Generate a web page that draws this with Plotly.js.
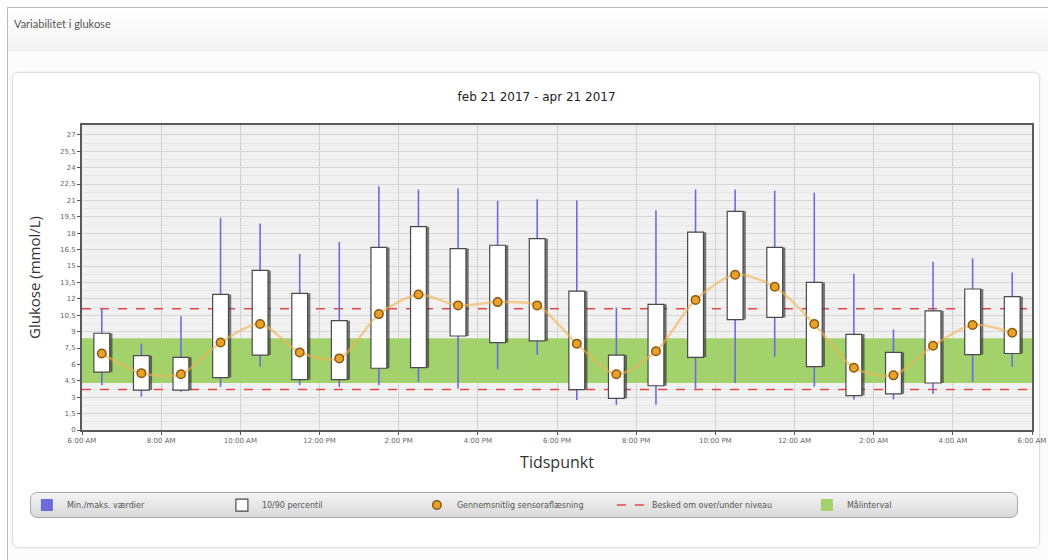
<!DOCTYPE html>
<html>
<head>
<meta charset="utf-8">
<script src="https://cdn.plot.ly/plotly-3.0.1.min.js"></script>
<style>
  html, body { margin: 0; padding: 0; background: #ffffff; }
  #page { position: relative; width: 1048px; height: 560px; overflow: hidden; }
  #outer { position: absolute; left: 7px; top: 7px; width: 1041px; height: 553px;
           border-left: 1px solid #b8b8b8; border-top: 1px solid #b8b8b8; background: #fcfcfc; }
  #header { position: absolute; left: 8px; top: 8px; width: 1040px; height: 42px;
            background: linear-gradient(#ffffff, #f4f4f4); border-bottom: 1px solid #ececec; }
  #panel { position: absolute; left: 12px; top: 72px; width: 1026px; height: 474px;
           border: 1px solid #dedede; border-radius: 6px; background: #ffffff;
           box-shadow: 0 0 3px rgba(0,0,0,0.08); }
  #legendbg { position: absolute; left: 30px; top: 492px; width: 986px; height: 24px;
              border: 1px solid #a8a8a8; border-radius: 7px;
              background: linear-gradient(#f4f4f4, #d9d9d9); }
  #chart { position: absolute; left: 0; top: 0; width: 1048px; height: 560px; }
</style>
</head>
<body>
<div id="page">
  <div id="outer"></div>
  <div id="header"></div>
  <div id="panel"></div>
  <div id="legendbg"></div>
  <div id="chart"></div>
</div>
<script>
// ---- data ----
const hours   = [6.5, 7.5, 8.5, 9.5, 10.5, 11.5, 12.5, 13.5, 14.5, 15.5, 16.5, 17.5,
                 18.5, 19.5, 20.5, 21.5, 22.5, 23.5, 24.5, 25.5, 26.5, 27.5, 28.5, 29.5];
const minVals = [4.1, 3.05, 3.5, 3.95, 5.8, 4.1, 3.95, 4.1, 4.4, 3.8, 5.55, 6.85,
                 2.75, 2.3, 2.3, 3.8, 4.3, 6.7, 3.95, 2.8, 2.8, 3.3, 4.4, 5.8];
const maxVals = [11.1, 7.9, 10.4, 19.4, 18.9, 16.1, 17.2, 22.3, 22.0, 22.1, 20.95, 21.1,
                 21.0, 11.2, 20.1, 22.0, 22.0, 21.9, 21.7, 14.3, 9.2, 15.4, 15.7, 14.4];
const p10     = [5.3, 3.65, 3.65, 4.8, 6.85, 4.6, 4.6, 5.65, 5.7, 8.6, 8.0, 8.15,
                 3.7, 2.9, 4.05, 6.65, 10.1, 10.3, 5.8, 3.15, 3.3, 4.3, 6.9, 7.0];
const p90     = [8.85, 6.8, 6.65, 12.4, 14.6, 12.5, 10.0, 16.7, 18.6, 16.6, 16.9, 17.5,
                 12.7, 6.85, 11.5, 18.1, 20.0, 16.7, 13.5, 8.75, 7.1, 10.9, 12.9, 12.2];
const meanVals= [7.0, 5.2, 5.1, 8.0, 9.7, 7.1, 6.55, 10.6, 12.4, 11.4, 11.7, 11.4,
                 7.9, 5.1, 7.2, 11.9, 14.2, 13.1, 9.7, 5.7, 5.0, 7.7, 9.6, 8.9];
const targetLow = 4.3, targetHigh = 8.4;
const alarmLow = 3.7, alarmHigh = 11.1;
const xStart = 6, xEnd = 30;
const xTickVals = [6, 8, 10, 12, 14, 16, 18, 20, 22, 24, 26, 28, 30];
const xTickText = ["6:00 AM", "8:00 AM", "10:00 AM", "12:00 PM", "2:00 PM", "4:00 PM", "6:00 PM",
                   "8:00 PM", "10:00 PM", "12:00 AM", "2:00 AM", "4:00 AM", "6:00 AM"];
const yTickVals = [0, 1.5, 3, 4.5, 6, 7.5, 9, 10.5, 12, 13.5, 15, 16.5, 18, 19.5, 21, 22.5, 24, 25.5, 27];
const yTickText = ["0", "1,5", "3", "4,5", "6", "7,5", "9", "10,5", "12", "13,5", "15", "16,5",
                   "18", "19,5", "21", "22,5", "24", "25,5", "27"];
const legendNames = ["Min./maks. værdier", "10/90 percentil", "Gennemsnitlig sensoraflæsning",
                     "Besked om over/under niveau", "Målinterval"];

// ---- build traces ----
const whiskHeights = maxVals.map((v, i) => v - minVals[i]);
const heights = p90.map((v, i) => v - p10[i]);

const traces = [
  { type: 'bar', name: legendNames[0], legendrank: 1, x: hours, y: whiskHeights, base: minVals,
    width: 0.04, offset: -0.02, marker: { color: '#6b6bdc', line: { width: 0 } } },
  { type: 'bar', x: hours, y: heights, base: p10, width: 0.4, offset: -0.13,
    marker: { color: 'rgba(50,50,50,0.65)', line: { width: 0 } }, showlegend: false, hoverinfo: 'skip' },
  { type: 'bar', name: legendNames[1], legendrank: 2, x: hours, y: heights, base: p10, width: 0.4, offset: -0.2,
    marker: { color: '#ffffff', line: { color: '#4a4a4a', width: 1.2 } } },
  { type: 'scatter', mode: 'lines', x: hours, y: meanVals, showlegend: false,
    line: { color: 'rgba(242,178,80,0.6)', width: 2.5, shape: 'spline', smoothing: 0.8 }, hoverinfo: 'skip' },
  { type: 'scatter', mode: 'markers', name: legendNames[2], legendrank: 3, x: hours, y: meanVals,
    marker: { color: '#e9a12a', size: 8.5, line: { color: '#8a5a12', width: 1.5 } } }
];

const layout = {
  width: 1048, height: 560,
  paper_bgcolor: 'rgba(0,0,0,0)', plot_bgcolor: '#f1f1f1',
  margin: { l: 82, r: 16, t: 125, b: 130 },
  barmode: 'overlay',
  font: { family: 'DejaVu Sans, sans-serif', color: '#444' },
  title: { text: 'feb 21 2017 - apr 21 2017', x: 0.512, xanchor: 'center', y: 0.827, yanchor: 'middle',
           font: { family: 'DejaVu Sans, sans-serif', size: 12, color: '#222' } },
  xaxis: {
    range: [xStart, xEnd], tickmode: 'array', tickvals: xTickVals, ticktext: xTickText,
    tickfont: { size: 7, color: '#666' }, ticks: 'outside', ticklen: 3, tickcolor: '#555',
    showgrid: true, gridcolor: '#d2d2d2', gridwidth: 1, zeroline: false,
    showline: true, mirror: true, linecolor: '#5a5a5a', linewidth: 2,
    title: { text: 'Tidspunkt', standoff: 12, font: { family: 'Open Sans, sans-serif', size: 16, color: '#333' } }
  },
  yaxis: {
    range: [0, 27.9], tickmode: 'array', tickvals: yTickVals, ticktext: yTickText,
    tickfont: { size: 7, color: '#666' }, ticks: 'outside', ticklen: 3, tickcolor: '#555',
    showgrid: true, gridcolor: '#d6d6d6', gridwidth: 1, zeroline: false,
    minor: { tickmode: 'linear', tick0: 0, dtick: 0.75, showgrid: true, gridcolor: '#e6e6e6', ticks: '' },
    showline: true, mirror: true, linecolor: '#5a5a5a', linewidth: 2,
    title: { text: 'Glukose (mmol/L)', standoff: 16, font: { family: 'Open Sans, sans-serif', size: 15, color: '#333' } }
  },
  shapes: [
    { type: 'rect', layer: 'between', xref: 'x', yref: 'y', x0: xStart, x1: xEnd, y0: targetLow, y1: targetHigh,
      fillcolor: '#a3d26c', line: { width: 0 }, showlegend: true, name: legendNames[4], legendrank: 5 },
    { type: 'line', layer: 'between', xref: 'x', yref: 'y', x0: xStart, x1: xEnd, y0: alarmHigh, y1: alarmHigh,
      line: { color: '#e24a4a', width: 1.5, dash: 'dash' }, showlegend: true, name: legendNames[3], legendrank: 4 },
    { type: 'line', layer: 'between', xref: 'x', yref: 'y', x0: xStart, x1: xEnd, y0: alarmLow, y1: alarmLow,
      line: { color: '#e24a4a', width: 1.5, dash: 'dash' }, showlegend: false }
  ],
  showlegend: true,
  legend: {
    orientation: 'h', x: -0.058, xanchor: 'left', y: -0.246, yanchor: 'middle',
    bgcolor: 'rgba(0,0,0,0)', borderwidth: 0,
    entrywidth: 150, entrywidthmode: 'pixels', itemwidth: 30, traceorder: 'normal',
    font: { family: 'DejaVu Sans, sans-serif', size: 8, color: '#555' }
  },
  annotations: [
    { xref: 'paper', yref: 'paper', x: -0.074, y: 1.332, xanchor: 'left', yanchor: 'middle',
      text: 'Variabilitet i glukose', showarrow: false,
      font: { family: 'Lato, sans-serif', size: 11, color: '#555' } }
  ]
};

Plotly.newPlot('chart', traces, layout, { displayModeBar: false, staticPlot: true });
</script>
</body>
</html>
